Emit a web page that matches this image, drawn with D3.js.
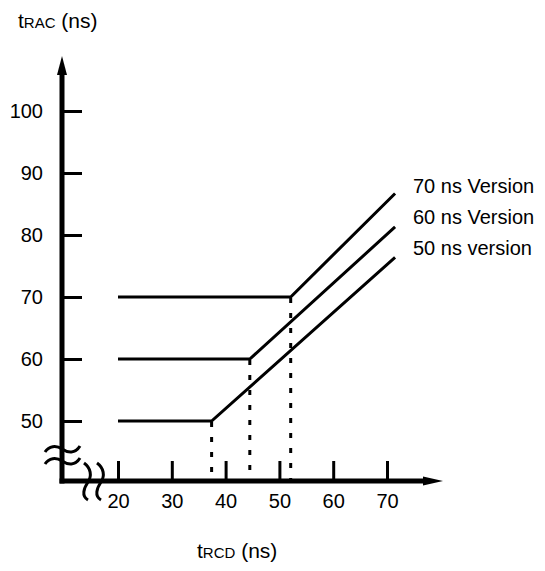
<!DOCTYPE html>
<html>
<head>
<meta charset="utf-8">
<script src="https://cdn.jsdelivr.net/npm/d3@7"></script>
<style>
  body { margin: 0; background: #fff; }
  svg { display: block; }
  text { font-family: "Liberation Sans", Arial, Helvetica, sans-serif; fill: #000; }
</style>
</head>
<body>
<script>
// tick values
var xTicks = [20, 30, 40, 50, 60, 70];
var yTicks = [50, 60, 70, 80, 90, 100];

// series: tRCD (x) and tRAC (y)
var tRcd70 = [20, 52.1, 71.5];
var tRac70 = [70, 70, 86.7];
var tRcd60 = [20, 44.5, 71.5];
var tRac60 = [60, 60, 81.3];
var tRcd50 = [20, 37.4, 71.5];
var tRac50 = [50, 50, 76.4];
var versionLabels = ["70 ns Version", "60 ns Version", "50 ns version"];

var series = [
    { label: versionLabels[0], xs: tRcd70, ys: tRac70 },
    { label: versionLabels[1], xs: tRcd60, ys: tRac60 },
    { label: versionLabels[2], xs: tRcd50, ys: tRac50 }
];

var width = 545, height = 571;
var axisX = 62, axisY = 481;

var x = d3.scaleLinear().domain([20, 70]).range([118, 387]);
var y = d3.scaleLinear().domain([50, 100]).range([421, 111]);

var svg = d3.select("body").append("svg")
    .attr("width", width)
    .attr("height", height);

// axis lines
svg.append("line")
    .attr("x1", axisX).attr("y1", axisY + 2.5)
    .attr("x2", axisX).attr("y2", 70)
    .attr("stroke", "#000").attr("stroke-width", 5);
svg.append("line")
    .attr("x1", axisX - 2.5).attr("y1", axisY)
    .attr("x2", 430).attr("y2", axisY)
    .attr("stroke", "#000").attr("stroke-width", 5);

// arrow heads
svg.append("path")
    .attr("d", "M" + axisX + ",56 L" + (axisX + 5) + ",75 L" + (axisX - 5) + ",75 Z")
    .attr("fill", "#000");
svg.append("path")
    .attr("d", "M443," + axisY + " L423," + (axisY - 4.5) + " L423," + (axisY + 4.5) + " Z")
    .attr("fill", "#000");

// y axis ticks
var yAxis = d3.axisLeft(y).tickValues(yTicks).tickSize(-20).tickPadding(19);
var gy = svg.append("g").attr("transform", "translate(" + axisX + ",0)").call(yAxis);
gy.select(".domain").remove();
gy.selectAll(".tick line").attr("stroke", "#000").attr("stroke-width", 3);
gy.selectAll(".tick text").attr("font-size", 20).attr("font-family", null);

// x axis ticks
var xAxis = d3.axisBottom(x).tickValues(xTicks).tickSize(-20).tickPadding(13);
var gx = svg.append("g").attr("transform", "translate(0," + axisY + ")").call(xAxis);
gx.select(".domain").remove();
gx.selectAll(".tick line").attr("stroke", "#000").attr("stroke-width", 3);
gx.selectAll(".tick text").attr("font-size", 20).attr("font-family", null);

// axis break squiggles
var breaks = svg.append("g").attr("fill", "none").attr("stroke", "#000").attr("stroke-width", 3);
[447, 459].forEach(function (by) {
    breaks.append("path")
        .attr("d", "M45," + (by + 5) + " C49," + (by - 1) + " 56," + (by - 2) + " 62," + (by + 2) +
            " S75," + (by + 7) + " 80," + (by - 1));
});
[84, 97].forEach(function (bx) {
    breaks.append("path")
        .attr("d", "M" + bx + ",463 C" + (bx + 7) + ",468 " + (bx + 8) + ",476 " + (bx + 4) + ",482" +
            " S" + (bx - 3) + ",496 " + (bx + 4) + ",500");
});

// dotted drop lines from the break points
svg.append("g").selectAll("line")
    .data(series)
    .enter().append("line")
    .attr("x1", function (d) { return x(d.xs[1]); })
    .attr("x2", function (d) { return x(d.xs[1]); })
    .attr("y1", function (d) { return y(d.ys[1]) + 1; })
    .attr("y2", axisY - 2)
    .attr("stroke", "#000")
    .attr("stroke-width", 3)
    .attr("stroke-dasharray", "5,10");

// series lines
var line = d3.line()
    .x(function (d) { return x(d[0]); })
    .y(function (d) { return y(d[1]); });

svg.append("g").selectAll("path")
    .data(series)
    .enter().append("path")
    .attr("fill", "none")
    .attr("stroke", "#000")
    .attr("stroke-width", 3)
    .attr("d", function (d) { return line(d3.zip(d.xs, d.ys)); });

// labels at the right
svg.append("g").selectAll("text")
    .data(series)
    .enter().append("text")
    .attr("x", 413)
    .attr("y", function (d, i) { return 193 + i * 31; })
    .attr("font-size", 20)
    .text(function (d) { return d.label; });

// axis titles
var ty = svg.append("text").attr("x", 18).attr("y", 28).attr("font-size", 21);
ty.append("tspan").text("t");
ty.append("tspan").attr("font-size", 15).text("RAC");
ty.append("tspan").text(" (ns)");

var tx = svg.append("text").attr("x", 197).attr("y", 558).attr("font-size", 21);
tx.append("tspan").text("t");
tx.append("tspan").attr("font-size", 15).text("RCD");
tx.append("tspan").text(" (ns)");
</script>
</body>
</html>
